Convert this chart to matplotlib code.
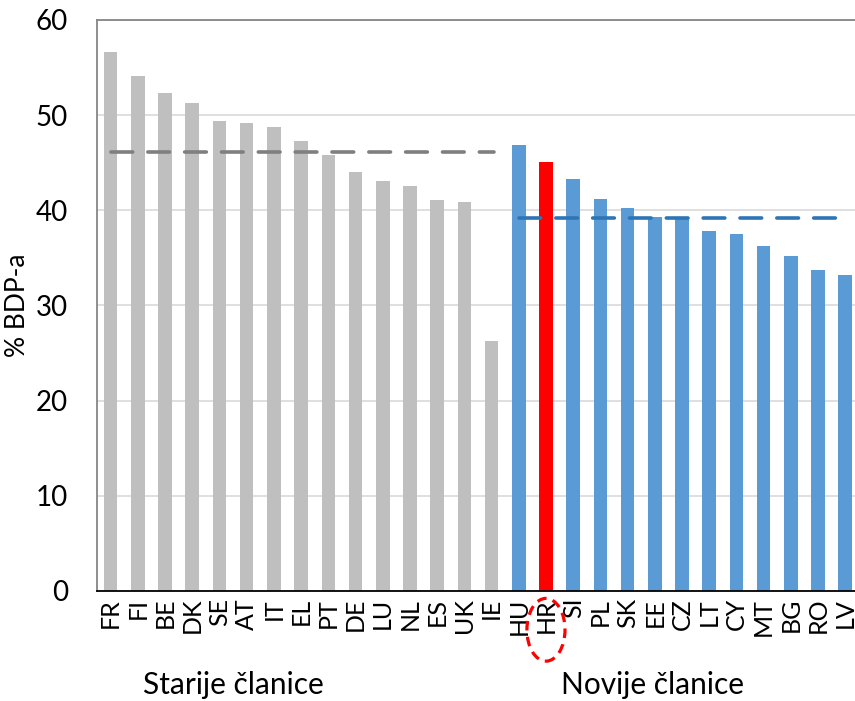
import matplotlib
matplotlib.use('Agg')
import matplotlib.pyplot as plt
import matplotlib.transforms as mtransforms
from matplotlib.patches import Ellipse

plt.rcParams['font.family'] = ['Lato', 'DejaVu Sans']

countries = ['FR', 'FI', 'BE', 'DK', 'SE', 'AT', 'IT', 'EL', 'PT', 'DE', 'LU', 'NL', 'ES', 'UK', 'IE',
             'HU', 'HR', 'SI', 'PL', 'SK', 'EE', 'CZ', 'LT', 'CY', 'MT', 'BG', 'RO', 'LV']
values = [56.6, 54.1, 52.3, 51.3, 49.4, 49.2, 48.8, 47.3, 45.8, 44.0, 43.1, 42.6, 41.1, 40.9, 26.3,
          46.9, 45.1, 43.3, 41.2, 40.2, 39.3, 39.1, 37.8, 37.5, 36.2, 35.2, 33.7, 33.2]
n_old = 15
old_avg = 46.1
new_avg = 39.2
group_labels = ['Starije članice', 'Novije članice']

colors = []
for i, c in enumerate(countries):
    if c == 'HR':
        colors.append('#FF0000')
    elif i < n_old:
        colors.append('#BFBFBF')
    else:
        colors.append('#5B9BD5')

fig = plt.figure(figsize=(8.55, 7.01), dpi=100)
ax = fig.add_axes([0.1135, 0.157, 0.891, 0.8145])

x = list(range(len(countries)))
ax.bar(x, values, width=0.5, color=colors, zorder=2)

# group averages
ax.plot([0, n_old - 1 + 0.1], [old_avg, old_avg], color='#7F7F7F', lw=2.6,
        ls=(0, (6, 4.2)), dash_capstyle='round', zorder=3)
ax.plot([n_old, len(countries) - 1], [new_avg, new_avg], color='#2E75B6', lw=2.6,
        ls=(0, (6, 4.2)), dash_capstyle='round', zorder=3)

ax.set_xlim(-0.5, len(countries) - 0.5)
ax.set_ylim(0, 60)
ax.set_yticks(range(0, 61, 10))
ax.yaxis.grid(True, color='#D9D9D9', lw=1.2, zorder=0)
ax.set_axisbelow(True)
ax.set_xticks(x)
ax.set_xticklabels(countries, rotation=90, fontsize=18)
ax.tick_params(axis='both', length=0)
ax.tick_params(axis='y', labelsize=20, pad=21)
ax.tick_params(axis='x', pad=5)
ax.set_ylabel('% BDP-a', fontsize=19, labelpad=4)

for s in ['left', 'top']:
    ax.spines[s].set_color('#868686')
    ax.spines[s].set_linewidth(1.3)
ax.spines['right'].set_visible(False)
ax.spines['bottom'].set_color('black')
ax.spines['bottom'].set_linewidth(1.3)

trans = mtransforms.blended_transform_factory(ax.transData, ax.transAxes)
ax.text(4.5, -0.165, group_labels[0], transform=trans, ha='center', va='center', fontsize=21.5)
ax.text(19.9, -0.165, group_labels[1], transform=trans, ha='center', va='center', fontsize=21.5)

hr = countries.index('HR')
ax.add_patch(Ellipse((hr, -0.068), 1.4, 0.11, transform=trans, fill=False,
                     edgecolor='#FF0000', lw=2.3, ls=(0, (3, 2)), clip_on=False))

fig.savefig('out.png', dpi=100)
